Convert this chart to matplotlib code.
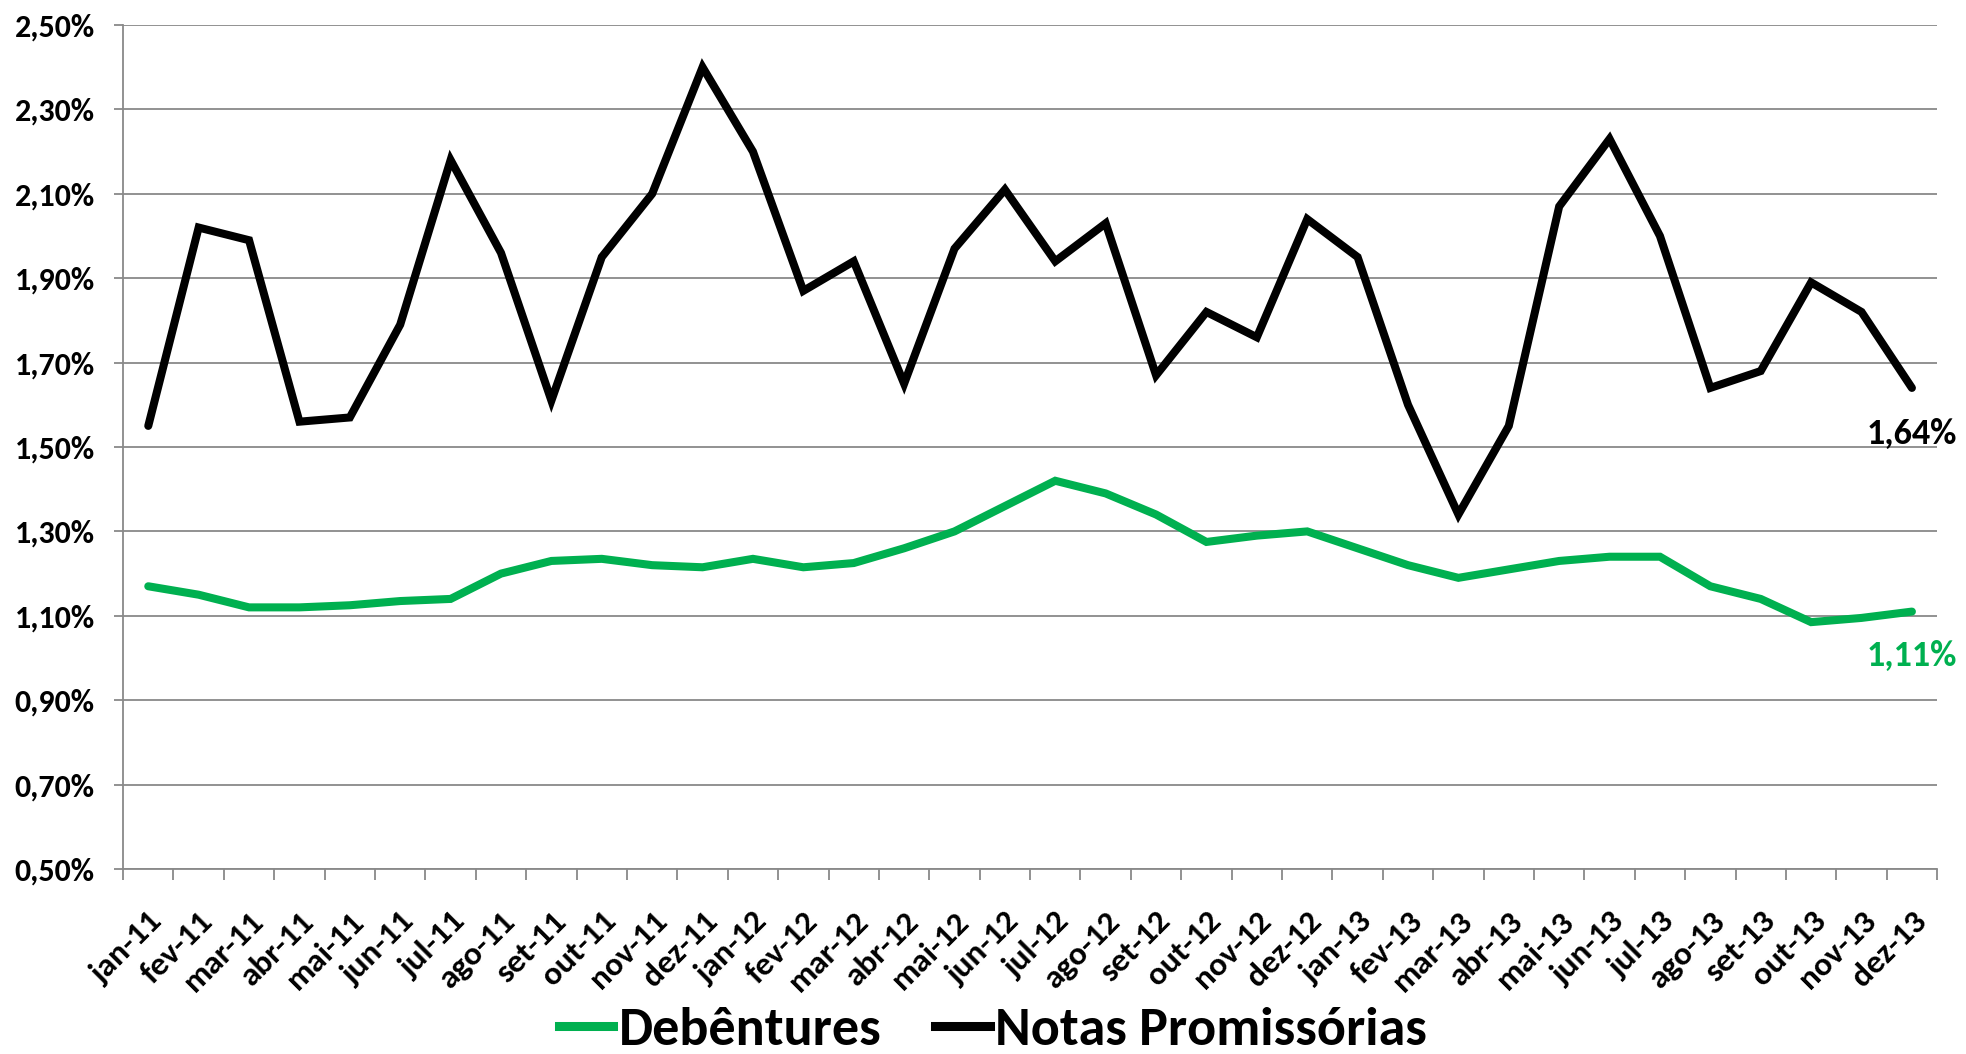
import matplotlib
matplotlib.use('Agg')
import matplotlib.pyplot as plt
from matplotlib.lines import Line2D
import numpy as np

months = ['jan', 'fev', 'mar', 'abr', 'mai', 'jun', 'jul', 'ago', 'set', 'out', 'nov', 'dez']
labels = [f'{m}-{y}' for y in ['11', '12', '13'] for m in months]

# Notas Promissorias (%)
notas = [1.55, 2.02, 1.99, 1.56, 1.57, 1.79, 2.18, 1.96, 1.61, 1.95, 2.10, 2.40,
         2.20, 1.87, 1.94, 1.65, 1.97, 2.11, 1.94, 2.03, 1.67, 1.82, 1.76, 2.04,
         1.95, 1.60, 1.34, 1.55, 2.07, 2.23, 2.00, 1.64, 1.68, 1.89, 1.82, 1.64]

# Debentures (%)
debentures = [1.17, 1.15, 1.12, 1.12, 1.125, 1.135, 1.14, 1.20, 1.23, 1.235, 1.22, 1.215,
              1.235, 1.215, 1.225, 1.26, 1.30, 1.36, 1.42, 1.39, 1.34, 1.275, 1.29, 1.30,
              1.26, 1.22, 1.19, 1.21, 1.23, 1.24, 1.24, 1.17, 1.14, 1.085, 1.095, 1.11]

GREEN = '#00B050'
GRID = '#898989'

plt.rcParams['font.family'] = ['Carlito', 'DejaVu Sans']
plt.rcParams['font.weight'] = 'bold'

fig = plt.figure(figsize=(19.66, 10.54), dpi=100)
ax = fig.add_axes([0.0626, 0.1755, 0.9227, 0.8008])

x = np.arange(len(labels))
ax.plot(x, debentures, color=GREEN, lw=5.8, solid_joinstyle='miter', solid_capstyle='round', zorder=3)
ax.plot(x, notas, color='black', lw=5.8, solid_joinstyle='miter', solid_capstyle='round', zorder=3)

ax.set_xlim(-0.5, len(labels) - 0.5)
ax.set_ylim(0.5, 2.5)
yt = np.arange(0.5, 2.51, 0.2)
ax.set_yticks(yt)
ax.set_yticklabels([f'{v:.2f}%'.replace('.', ',') for v in yt], fontsize=23, fontweight='bold')
ax.grid(axis='y', color=GRID, lw=1.3, zorder=0)
ax.set_axisbelow(True)

ax.set_xticks(x)
ax.set_xticklabels(labels, rotation=45, ha='right', rotation_mode='anchor', fontsize=24, fontweight='bold')
ax.set_xticks(np.arange(-0.5, len(labels), 1.0), minor=True)
ax.tick_params(axis='x', which='major', length=0, pad=27)
ax.tick_params(axis='x', which='minor', length=8, width=1.3, color=GRID, direction='out')
ax.tick_params(axis='y', length=6.5, width=1.3, color=GRID, pad=14)

for s in ['top', 'right']:
    ax.spines[s].set_visible(False)
for s in ['left', 'bottom']:
    ax.spines[s].set_color(GRID)
    ax.spines[s].set_linewidth(1.3)

# end labels
ax.annotate('1,64%', (x[-1], notas[-1]), xytext=(0, -33), textcoords='offset points',
            ha='center', va='center', fontsize=26, fontweight='bold', color='black')
ax.annotate('1,11%', (x[-1], debentures[-1]), xytext=(0, -32), textcoords='offset points',
            ha='center', va='center', fontsize=26, fontweight='bold', color=GREEN)

handles = [Line2D([], [], color=GREEN, lw=6.5), Line2D([], [], color='black', lw=6.5)]
fig.legend(handles, ['Debêntures', 'Notas Promissórias'], loc='center', bbox_to_anchor=(0.505, 0.022),
           ncol=2, frameon=False, handlelength=1.0, handletextpad=0.1, columnspacing=1.0,
           borderaxespad=0, prop={'family': 'Carlito', 'weight': 'bold', 'size': 39})

fig.savefig('out.png', dpi=100)
